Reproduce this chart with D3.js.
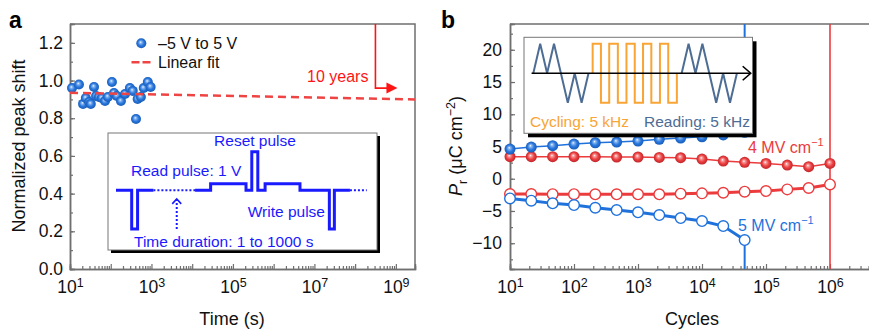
<!DOCTYPE html>
<html>
<head>
<meta charset="UTF-8">
<title>Retention and endurance</title>
<script src="https://cdn.jsdelivr.net/npm/d3@7"></script>
<style>
body { margin: 0; background: #fff; }
svg { display: block; font-family: "Liberation Sans", Arial, Helvetica, sans-serif; }
</style>
</head>
<body>
<div id="chart"></div>
<script>
// ---- panel a : retention ----
var retTime = [11.2, 16.6, 20.9, 24.5, 29.5, 32.4, 38.9, 43.7, 51.3, 60.3, 72.4, 85.1, 107,
               120, 141, 178, 224, 295, 347, 417, 457, 550, 646, 813, 955];
var retShift = [0.960, 0.979, 0.876, 0.907, 0.886, 0.876, 0.966, 0.918, 0.913, 0.907, 0.891, 0.913, 0.992,
                0.934, 0.918, 0.891, 0.929, 0.960, 0.945, 0.796, 0.902, 0.913, 0.960, 0.992, 0.966];
var fitTime = [10, 2.95e9];
var fitShift = [0.935, 0.900];
var tenYears = 3.15e8;       // seconds
var tenYearsArrowAt = 0.96;  // level of the horizontal arrow
var aYTicks = [0, 0.2, 0.4, 0.6, 0.8, 1.0, 1.2];
var aXLabelled = [1e1, 1e3, 1e5, 1e7, 1e9];

// ---- panel b : endurance ----
var cycles = [10, 21.5, 46.4, 100, 215, 464, 1000, 2150, 4640, 1e4, 2.15e4, 4.64e4, 1e5, 2.15e5, 4.64e5, 1e6];
var pr4Pos = [3.42, 3.42, 3.42, 3.42, 3.42, 3.37, 3.37, 3.31, 3.26, 3.05, 2.74, 2.54, 2.38, 2.12, 1.87, 2.38];
var pr4Neg = [-2.37, -2.37, -2.40, -2.40, -2.42, -2.42, -2.42, -2.42, -2.32, -2.27, -2.17, -2.01, -1.91, -1.65, -1.44, -0.88];
var pr5Pos = [4.61, 4.92, 5.12, 5.38, 5.58, 5.69, 5.85, 6.11, 6.31, 6.51, 6.80, 7.20];
var pr5Neg = [-3.05, -3.41, -3.82, -4.08, -4.50, -4.86, -5.21, -5.63, -6.10, -6.56, -7.34, -9.51];
var bYTicks = [-10, -5, 0, 5, 10, 15, 20];
var bXLabelled = [1e1, 1e2, 1e3, 1e4, 1e5, 1e6];

// inset b schematic (time in half-triangle units, level -1..1)
var readT1 = [0, 1, 2, 3, 4, 5, 6, 7, 8];
var readT2 = [21.5, 22.5, 23.5, 24.5, 25.5, 26.5, 27.5, 28.5, 29.5];
var readLevel = [0, 1, 0, 1, 0, -1, 0, -1, 0];
var cycleEdges = [8.6, 9.8, 11.0, 12.25, 13.5, 14.7, 15.9, 17.1, 18.35, 19.55, 20.8];

// inset a schematic (time 0..100, level -1..1)
var pulseT1 = [0, 6.25, 6.25, 8.6, 8.6, 14.9];
var pulseL1 = [0, 0, -1, -1, 0, 0];
var pulseT2 = [31.5, 37.7, 37.7, 51.8, 51.8, 54.1, 54.1, 56.5, 56.5, 59.4, 59.4, 73.3, 73.3, 85.0, 85.0, 87.0, 87.0, 93.2];
var pulseL2 = [0, 0, 0.17, 0.17, 0, 0, 1, 1, 0, 0, 0.17, 0.17, 0, 0, -1, -1, 0, 0];
var idleT = [[14.9, 31.5], [93.2, 99.9]];
var waitArrowT = 24.2;

var svgW = 869, svgH = 330;
var axisGrey = "#6f6f6f";
var blue = "#1f72dc", red = "#ec3b3d";
var tickFont = "17.5px";

var svg = d3.select("#chart").append("svg")
        .attr("width", svgW)
        .attr("height", svgH);

// sphere gradients
var defs = svg.append("defs");
function sphere(id, light, mid, dark) {
    var g = defs.append("radialGradient").attr("id", id)
            .attr("cx", "50%").attr("cy", "50%").attr("r", "55%")
            .attr("fx", "42%").attr("fy", "38%");
    g.append("stop").attr("offset", "0%").attr("stop-color", "#ffffff");
    g.append("stop").attr("offset", "18%").attr("stop-color", light);
    g.append("stop").attr("offset", "55%").attr("stop-color", mid);
    g.append("stop").attr("offset", "100%").attr("stop-color", dark);
}
sphere("ballBlue", "#8fbaf0", "#2a78de", "#1456b0");
sphere("ballRed", "#f7a0a0", "#ec4042", "#b81f22");

function styleAxis(g) {
    g.select(".domain").attr("stroke", axisGrey).attr("stroke-width", 1.5);
    g.selectAll(".tick line").attr("stroke", axisGrey).attr("stroke-width", 1.2);
    g.selectAll("text").attr("font-size", tickFont).attr("font-family", null).attr("fill", "#111");
}

function powerLabels(g) {
    g.selectAll(".tick text").each(function (d) {
        var t = d3.select(this);
        t.text(null);
        t.append("tspan").text("10");
        t.append("tspan").attr("dy", "-0.55em").attr("font-size", "12.5px")
                .text(Math.round(Math.log10(d)));
    });
}

function logMinor(lo, hi) {
    var out = [];
    for (var e = lo; e < hi; e++) {
        for (var m = 2; m < 10; m++) out.push(m * Math.pow(10, e));
    }
    return out;
}

// ================= panel a =================
var xA = d3.scaleLog().domain([10, 2.95e9]).range([70, 415]);
var yA = d3.scaleLinear().domain([0, 1.3]).range([269, 24]);
var gA = svg.append("g");

// frame top/right
gA.append("path")
        .attr("d", "M" + xA.range()[0] + "," + yA.range()[1] + "H" + xA.range()[1] + "V" + yA.range()[0])
        .attr("fill", "none").attr("stroke", axisGrey).attr("stroke-width", 1.5);

var decadesA = d3.range(1, 10).map(function (e) { return Math.pow(10, e); });
gA.append("g").attr("transform", "translate(0," + yA.range()[0] + ")")
        .call(d3.axisBottom(xA).tickValues(logMinor(1, 9).filter(function (v) { return v < 2.95e9; }))
                .tickSize(-3).tickFormat(""))
        .call(styleAxis);
gA.append("g").attr("transform", "translate(0," + yA.range()[0] + ")")
        .call(d3.axisBottom(xA).tickValues(decadesA).tickSize(-5).tickPadding(12)
                .tickFormat(function (d) { return aXLabelled.indexOf(d) >= 0 ? "x" : ""; }))
        .call(styleAxis)
        .call(function (g) {
            g.selectAll(".tick text").filter(function (d) { return aXLabelled.indexOf(d) >= 0; })
                    .each(function (d) {
                        var t = d3.select(this);
                        t.text(null);
                        t.append("tspan").text("10");
                        t.append("tspan").attr("dy", "-0.55em").attr("font-size", "12.5px")
                                .text(Math.round(Math.log10(d)));
                    });
        });

gA.append("g").attr("transform", "translate(" + xA.range()[0] + ",0)")
        .call(d3.axisLeft(yA).tickValues(d3.range(1, 13).map(function (i) { return i / 10; }))
                .tickSize(-3).tickFormat(""))
        .call(styleAxis);
gA.append("g").attr("transform", "translate(" + xA.range()[0] + ",0)")
        .call(d3.axisLeft(yA).tickValues(aYTicks).tickSize(-5).tickPadding(7).tickFormat(d3.format(".1f")))
        .call(styleAxis);

// data
gA.selectAll("circle.ret")
        .data(retTime)
        .enter()
        .append("circle")
        .attr("class", "ret")
        .attr("cx", function (d) { return xA(d); })
        .attr("cy", function (d, i) { return yA(retShift[i]); })
        .attr("r", 5)
        .attr("fill", "url(#ballBlue)");

gA.append("path")
        .datum(fitTime)
        .attr("d", d3.line().x(function (d) { return xA(d); }).y(function (d, i) { return yA(fitShift[i]); }))
        .attr("fill", "none")
        .attr("stroke", "#ef4444")
        .attr("stroke-width", 2.5)
        .attr("stroke-dasharray", "8,5");

// 10 years marker
var tyX = xA(tenYears);
gA.append("path")
        .attr("d", "M" + tyX + "," + yA(1.3) + "V" + yA(tenYearsArrowAt) + "H" + (tyX + 12))
        .attr("fill", "none").attr("stroke", "#ff1414").attr("stroke-width", 1.6);
gA.append("path")
        .attr("d", "M" + (tyX + 11) + "," + (yA(tenYearsArrowAt) - 5.5) + "L" + (tyX + 22) + "," + yA(tenYearsArrowAt)
                + "L" + (tyX + 11) + "," + (yA(tenYearsArrowAt) + 5.5) + "Z")
        .attr("fill", "#ff1414");
gA.append("text").attr("x", tyX - 7).attr("y", 82).attr("text-anchor", "end")
        .attr("font-size", "16px").attr("fill", "#ff1414").text("10 years");

// legend
gA.append("circle").attr("cx", 141.3).attr("cy", 43.3).attr("r", 5).attr("fill", "url(#ballBlue)");
gA.append("text").attr("x", 158).attr("y", 48.5).attr("font-size", "16px").attr("fill", "#111").text("\u20135 V to 5 V");
gA.append("line").attr("x1", 131.5).attr("x2", 151).attr("y1", 62.3).attr("y2", 62.3)
        .attr("stroke", "#ef4444").attr("stroke-width", 2.5).attr("stroke-dasharray", "8,3");
gA.append("text").attr("x", 158).attr("y", 68).attr("font-size", "16px").attr("fill", "#111").text("Linear fit");

// inset a
var insA = {x0: 108, y0: 133, x1: 377, y1: 250};
gA.append("rect").attr("x", insA.x0 + 3).attr("y", insA.y0 + 3)
        .attr("width", insA.x1 - insA.x0).attr("height", insA.y1 - insA.y0).attr("fill", "#000");
gA.append("rect").attr("x", insA.x0).attr("y", insA.y0)
        .attr("width", insA.x1 - insA.x0).attr("height", insA.y1 - insA.y0)
        .attr("fill", "#fff").attr("stroke", "#777").attr("stroke-width", 1);

var pBlue = "#1a1aff";
var xIA = d3.scaleLinear().domain([0, 100]).range([116, 367]);
var yIA = d3.scaleLinear().domain([-1, 1]).range([229, 151.7]);
var waveA = d3.line().x(function (d) { return xIA(d[0]); }).y(function (d) { return yIA(d[1]); });
[[pulseT1, pulseL1], [pulseT2, pulseL2]].forEach(function (p) {
    gA.append("path")
            .datum(p[0].map(function (t, i) { return [t, p[1][i]]; }))
            .attr("d", waveA)
            .attr("fill", "none").attr("stroke", pBlue).attr("stroke-width", 3)
            .attr("stroke-linejoin", "miter");
});
idleT.forEach(function (s) {
    gA.append("path").datum([[s[0], 0], [s[1], 0]]).attr("d", waveA)
            .attr("fill", "none").attr("stroke", pBlue).attr("stroke-width", 2).attr("stroke-dasharray", "2,2");
});
gA.append("path").datum([[waitArrowT, -1], [waitArrowT, -0.22]]).attr("d", waveA)
        .attr("fill", "none").attr("stroke", pBlue).attr("stroke-width", 2).attr("stroke-dasharray", "2,2");
gA.append("path")
        .attr("d", "M" + (xIA(waitArrowT) - 4.5) + "," + (yIA(-0.22) + 5) + "L" + xIA(waitArrowT) + "," + yIA(-0.22)
                + "L" + (xIA(waitArrowT) + 4.5) + "," + (yIA(-0.22) + 5))
        .attr("fill", "none").attr("stroke", pBlue).attr("stroke-width", 1.6);

var insAText = gA.append("g").attr("font-size", "15.5px").attr("fill", pBlue);
insAText.append("text").attr("x", 255).attr("y", 146).attr("text-anchor", "middle").text("Reset pulse");
insAText.append("text").attr("x", 131).attr("y", 176).text("Read pulse: 1 V");
insAText.append("text").attr("x", 325).attr("y", 217).attr("text-anchor", "end").text("Write pulse");
insAText.append("text").attr("x", 134).attr("y", 246.5).text("Time duration: 1 to 1000 s");

// titles
svg.append("text").attr("x", 9).attr("y", 28).attr("font-size", "23px").attr("font-weight", "bold").text("a");
svg.append("text").attr("x", 232).attr("y", 325).attr("text-anchor", "middle").attr("font-size", "18px")
        .attr("fill", "#111").text("Time (s)");
svg.append("text").attr("transform", "translate(25,146) rotate(-90)").attr("text-anchor", "middle")
        .attr("font-size", "18px").attr("fill", "#111").text("Normalized peak shift");

// ================= panel b =================
var xB = d3.scaleLog().domain([10, 1e7]).range([510, 894]);
var yB = d3.scaleLinear().domain([-14, 24]).range([269, 24]);
var gB = svg.append("g");

gB.append("path")
        .attr("d", "M" + xB.range()[0] + "," + yB.range()[1] + "H" + xB.range()[1] + "V" + yB.range()[0])
        .attr("fill", "none").attr("stroke", axisGrey).attr("stroke-width", 1.5);

gB.append("g").attr("transform", "translate(0," + yB.range()[0] + ")")
        .call(d3.axisBottom(xB).tickValues(logMinor(1, 7)).tickSize(-3).tickFormat(""))
        .call(styleAxis);
gB.append("g").attr("transform", "translate(0," + yB.range()[0] + ")")
        .call(d3.axisBottom(xB).tickValues(bXLabelled).tickSize(-5).tickPadding(12))
        .call(styleAxis)
        .call(powerLabels);

gB.append("g").attr("transform", "translate(" + xB.range()[0] + ",0)")
        .call(d3.axisLeft(yB).tickValues(d3.range(-12.5, 24, 2.5)).tickSize(-3).tickFormat(""))
        .call(styleAxis);
gB.append("g").attr("transform", "translate(" + xB.range()[0] + ",0)")
        .call(d3.axisLeft(yB).tickValues(bYTicks).tickSize(-5).tickPadding(8))
        .call(styleAxis);

var lineB = function (vals) {
    return d3.line().x(function (d) { return xB(d); }).y(function (d, i) { return yB(vals[i]); });
};
var seriesB = [
    {vals: pr4Pos, color: red, filled: true, width: 1.5},
    {vals: pr4Neg, color: red, filled: false, width: 3},
    {vals: pr5Pos, color: blue, filled: true, width: 1.5},
    {vals: pr5Neg, color: blue, filled: false, width: 3}
];

// breakdown lines
var lastB5 = cycles[pr5Pos.length - 1], lastB4 = cycles[pr4Pos.length - 1];
gB.append("line").attr("x1", xB(lastB5)).attr("x2", xB(lastB5)).attr("y1", yB(24)).attr("y2", yB(pr5Pos[pr5Pos.length - 1]))
        .attr("stroke", blue).attr("stroke-width", 2);
gB.append("line").attr("x1", xB(lastB5)).attr("x2", xB(lastB5)).attr("y1", yB(pr5Neg[pr5Neg.length - 1])).attr("y2", yB(-14))
        .attr("stroke", blue).attr("stroke-width", 2);
gB.append("line").attr("x1", xB(lastB4)).attr("x2", xB(lastB4)).attr("y1", yB(24)).attr("y2", yB(-14))
        .attr("stroke", red).attr("stroke-width", 1.6);

seriesB.forEach(function (s) {
    var xs = cycles.slice(0, s.vals.length);
    gB.append("path").datum(xs).attr("d", lineB(s.vals))
            .attr("fill", "none").attr("stroke", s.color).attr("stroke-width", s.width);
    gB.append("g").selectAll("circle")
            .data(xs)
            .enter()
            .append("circle")
            .attr("cx", function (d) { return xB(d); })
            .attr("cy", function (d, i) { return yB(s.vals[i]); })
            .attr("r", s.filled ? 5.5 : 5.3)
            .attr("fill", s.filled ? (s.color === red ? "url(#ballRed)" : "url(#ballBlue)") : "#fff")
            .attr("stroke", s.filled ? "none" : s.color)
            .attr("stroke-width", 1.4);
});

// field labels
var lab4 = gB.append("text").attr("x", 748).attr("y", 153).attr("font-size", "16px").attr("fill", red);
lab4.append("tspan").text("4 MV cm");
lab4.append("tspan").attr("dy", -7).attr("font-size", "11px").text("\u22121");
var lab5 = gB.append("text").attr("x", 738).attr("y", 230.5).attr("font-size", "16px").attr("fill", blue);
lab5.append("tspan").text("5 MV cm");
lab5.append("tspan").attr("dy", -7).attr("font-size", "11px").text("\u22121");

// inset b
var insB = {x0: 524, y0: 37.3, x1: 752.5, y1: 133.3};
gB.append("rect").attr("x", insB.x0 + 4).attr("y", insB.y0 + 4)
        .attr("width", insB.x1 - insB.x0).attr("height", insB.y1 - insB.y0).attr("fill", "#000");
gB.append("rect").attr("x", insB.x0).attr("y", insB.y0)
        .attr("width", insB.x1 - insB.x0).attr("height", insB.y1 - insB.y0)
        .attr("fill", "#fff").attr("stroke", "#777").attr("stroke-width", 1);

var steel = "#4d6d95", orange = "#f8a535";
var xIB = d3.scaleLinear().domain([0, 31.5]).range([533.3, 750.7]);
var yIB = d3.scaleLinear().domain([-1, 1]).range([102.7, 43.8]);
var waveB = d3.line().x(function (d) { return xIB(d[0]); }).y(function (d) { return yIB(d[1]); });

var cyc = [[cycleEdges[0], 0], [cycleEdges[0], 1]];
for (var k = 1; k < cycleEdges.length; k++) {
    var lv = (k % 2 === 1) ? 1 : -1;
    cyc.push([cycleEdges[k], lv]);
    cyc.push([cycleEdges[k], k === cycleEdges.length - 1 ? 0 : -lv]);
}
gB.append("path").datum(cyc).attr("d", waveB)
        .attr("fill", "none").attr("stroke", orange).attr("stroke-width", 2);
[readT1, readT2].forEach(function (rt) {
    gB.append("path").datum(rt.map(function (t, i) { return [t, readLevel[i]]; })).attr("d", waveB)
            .attr("fill", "none").attr("stroke", steel).attr("stroke-width", 2);
});
gB.append("line").attr("x1", xIB(-0.25)).attr("x2", xIB(31.4)).attr("y1", yIB(0)).attr("y2", yIB(0))
        .attr("stroke", "#000").attr("stroke-width", 1.6);
gB.append("path")
        .attr("d", "M" + (xIB(31.5) - 8) + "," + (yIB(0) - 7) + "L" + xIB(31.5) + "," + yIB(0)
                + "L" + (xIB(31.5) - 8) + "," + (yIB(0) + 7))
        .attr("fill", "none").attr("stroke", "#000").attr("stroke-width", 1.6);
gB.append("text").attr("x", 530).attr("y", 126.5).attr("font-size", "15.5px").attr("fill", orange).text("Cycling: 5 kHz");
gB.append("text").attr("x", 750).attr("y", 126.5).attr("text-anchor", "end").attr("font-size", "15.5px")
        .attr("fill", steel).text("Reading: 5 kHz");

// titles
svg.append("text").attr("x", 441).attr("y", 28).attr("font-size", "23px").attr("font-weight", "bold").text("b");
svg.append("text").attr("x", 692).attr("y", 325).attr("text-anchor", "middle").attr("font-size", "18px")
        .attr("fill", "#111").text("Cycles");
var yLabB = svg.append("text").attr("transform", "translate(462,146) rotate(-90)").attr("text-anchor", "middle")
        .attr("font-size", "18px").attr("fill", "#111");
yLabB.append("tspan").attr("font-style", "italic").text("P");
yLabB.append("tspan").attr("font-size", "12.5px").attr("dy", 5).text("r");
yLabB.append("tspan").attr("dy", -5).text(" (\u03bcC cm");
yLabB.append("tspan").attr("font-size", "12.5px").attr("dy", -7).text("\u22122");
yLabB.append("tspan").attr("dy", 7).text(")");
</script>
</body>
</html>
